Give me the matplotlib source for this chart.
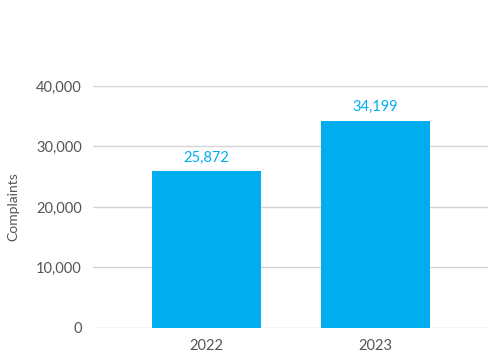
import matplotlib.pyplot as plt
from matplotlib.ticker import FuncFormatter

years = ['2022', '2023']
complaints = [25872, 34199]
yticks = [0, 10000, 20000, 30000, 40000]

blue = '#00AEEF'
grey = '#555555'

plt.rcParams['font.family'] = ['Lato', 'DejaVu Sans']

fig = plt.figure(figsize=(5, 3.58), dpi=100)
ax = fig.add_axes([0.186, 0.084, 0.79, 0.676])

x = range(len(years))
bars = ax.bar(x, complaints, width=0.645, color=blue, zorder=3)

for b, v in zip(bars, complaints):
    ax.annotate(f'{v:,}', (b.get_x() + b.get_width() / 2, v),
                xytext=(0, 5), textcoords='offset points',
                ha='center', va='bottom', color=blue, fontsize=10.5)

ax.set_xticks(list(x))
ax.set_xticklabels(years)
ax.set_xlim(-0.67, 1.666)
ax.set_ylim(0, 40000)
ax.set_yticks(yticks)
ax.yaxis.set_major_formatter(FuncFormatter(lambda v, p: f'{int(v):,}'))
ax.grid(axis='y', color='#d4d4d4', linewidth=1, zorder=0)
for s in ax.spines.values():
    s.set_visible(False)
ax.tick_params(length=0, labelsize=10.5, labelcolor=grey)
ax.tick_params(axis='y', pad=8)
ax.tick_params(axis='x', pad=8)
ax.set_ylabel('Complaints', color=grey, fontsize=10, labelpad=12)

fig.savefig('out.png')
